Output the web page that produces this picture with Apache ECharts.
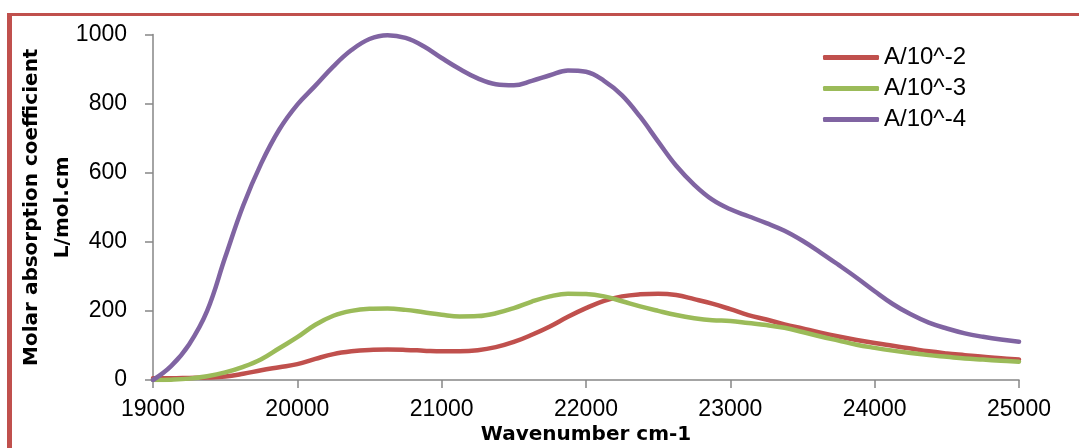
<!DOCTYPE html>
<html>
<head>
<meta charset="utf-8">
<script src="https://cdn.jsdelivr.net/npm/echarts@6/dist/echarts.min.js"></script>
<style>
  html, body { margin: 0; padding: 0; background: #fff; }
  #chart { position: absolute; left: 0; top: 0; width: 1079px; height: 448px; }
  #frame { position: absolute; left: 7px; top: 13px; width: 1200px; height: 600px;
           border-top: 3px solid #C0504D; border-left: 5px solid #C0504D; box-sizing: border-box; pointer-events: none; }
</style>
</head>
<body>
<div id="chart"></div>
<div id="frame"></div>
<script>
const wavenumbers = [19000, 19125, 19250, 19375, 19500, 19625, 19750, 19875, 20000, 20125, 20250, 20375,
                     20500, 20625, 20750, 20875, 21000, 21125, 21250, 21375, 21500, 21625, 21750, 21875,
                     22000, 22125, 22250, 22375, 22500, 22625, 22750, 22875, 23000, 23125, 23250, 23375,
                     23500, 23625, 23750, 23875, 24000, 24125, 24250, 24375, 24500, 24625, 24750, 24875, 25000];
const seriesNames = ['A/10^-2', 'A/10^-3', 'A/10^-4'];
const valuesA2 = [5, 5, 6, 7, 10, 18, 28, 37, 46, 61, 75, 83,
                  87, 88, 87, 85, 83, 83, 86, 95, 110, 131, 155, 183,
                  208, 229, 242, 248, 250, 246, 234, 221, 205, 188, 175, 161,
                  149, 137, 126, 116, 107, 99, 91, 83, 77, 72, 67, 63, 59];
const valuesA3 = [0, 1, 4, 11, 22, 38, 60, 92, 124, 160, 186, 200,
                  206, 207, 203, 196, 189, 184, 185, 193, 208, 227, 242, 250,
                  249, 242, 228, 213, 200, 188, 179, 173, 171, 165, 159, 151,
                  139, 126, 114, 102, 93, 85, 78, 72, 67, 62, 59, 56, 53];
const valuesA4 = [0, 40, 103, 200, 355, 505, 627, 725, 797, 852, 908, 955,
                  987, 998, 990, 966, 932, 900, 873, 856, 853, 866, 882, 896,
                  892, 866, 824, 762, 690, 620, 565, 522, 494, 474, 454, 432,
                  403, 369, 333, 296, 257, 220, 190, 166, 149, 135, 125, 117, 111];
const colors = ['#C0504D', '#9BBB59', '#8064A2'];
const yTicks = { min: 0, max: 1000, interval: 200 };
const xTicks = { min: 19000, max: 25000, interval: 1000 };

const allValues = [valuesA2, valuesA3, valuesA4];
const chart = echarts.init(document.getElementById('chart'), null, { renderer: 'canvas' });

const axisColor = '#868686';
const tickFont = 'Liberation Sans';

chart.setOption({
  animation: false,
  backgroundColor: 'transparent',
  grid: { left: 153, right: 60, top: 34.5, bottom: 68, containLabel: false, outerBoundsMode: 'none' },
  legend: {
    orient: 'vertical',
    left: 818,
    top: 37,
    itemWidth: 56,
    itemHeight: 5,
    itemGap: 0,
    icon: 'roundRect',
    data: seriesNames,
    textStyle: { fontFamily: tickFont, fontSize: 24, color: '#000', lineHeight: 31 }
  },
  xAxis: {
    type: 'value',
    min: xTicks.min, max: xTicks.max, interval: xTicks.interval,
    name: 'Wavenumber cm-1',
    nameLocation: 'middle',
    nameGap: 45,
    nameMoveOverlap: false,
    nameTextStyle: { fontFamily: 'DejaVu Sans', fontWeight: 'bold', fontSize: 20, color: '#000' },
    axisLine: { show: true, lineStyle: { color: axisColor, width: 1.5 } },
    axisTick: { show: true, length: 8, lineStyle: { color: axisColor, width: 1.5 } },
    axisLabel: { fontFamily: tickFont, fontSize: 23, color: '#000', margin: 18, formatter: v => String(v) },
    splitLine: { show: false }
  },
  yAxis: {
    type: 'value',
    min: yTicks.min, max: yTicks.max, interval: yTicks.interval,
    name: 'Molar absorption coefficient\nL/mol.cm',
    nameLocation: 'middle',
    nameGap: 75,
    nameMoveOverlap: false,
    nameTextStyle: { fontFamily: 'DejaVu Sans', fontWeight: 'bold', fontSize: 20, color: '#000', lineHeight: 31 },
    axisLine: { show: true, lineStyle: { color: axisColor, width: 1.5 } },
    axisTick: { show: true, length: 8, lineStyle: { color: axisColor, width: 1.5 } },
    axisLabel: { fontFamily: tickFont, fontSize: 23, color: '#000', margin: 26, formatter: v => String(v) },
    splitLine: { show: false }
  },
  series: seriesNames.map((name, i) => ({
    name: name,
    type: 'line',
    smooth: 0.4,
    showSymbol: false,
    symbol: 'none',
    color: colors[i],
    lineStyle: { color: colors[i], width: 4.5, cap: 'round', join: 'round' },
    data: wavenumbers.map((w, j) => [w, allValues[i][j]])
  }))
});
</script>
</body>
</html>
